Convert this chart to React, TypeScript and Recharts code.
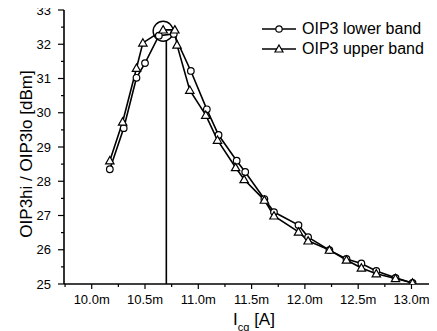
import React from "react";
import {
  LineChart,
  Line,
  XAxis,
  YAxis,
  ReferenceDot,
  ReferenceLine,
  Legend,
} from "recharts";

// ---- data ----
const seriesNames = ["OIP3 lower band", "OIP3 upper band"];

const lowerBandCurrent = [
  10.17, 10.3, 10.42, 10.5, 10.63, 10.77, 10.93, 11.08, 11.19, 11.36, 11.44,
  11.62, 11.71, 11.94, 12.03, 12.23, 12.39, 12.53, 12.67, 12.85, 13.01,
];
const lowerBandOIP3 = [
  28.35, 29.55, 31.02, 31.45, 32.25, 32.3, 31.22, 30.1, 29.35, 28.6, 28.27,
  27.48, 27.1, 26.72, 26.37, 25.99, 25.73, 25.6, 25.38, 25.18, 25.03,
];

const upperBandCurrent = [
  10.17, 10.29, 10.42, 10.48, 10.67, 10.78, 10.8, 10.92, 11.07, 11.18, 11.35,
  11.43, 11.62, 11.71, 11.94, 12.03, 12.23, 12.39, 12.53, 12.67, 12.85, 13.01,
];
const upperBandOIP3 = [
  28.6, 29.73, 31.3, 32.04, 32.42, 32.42, 31.98, 30.66, 29.93, 29.2, 28.4,
  28.05, 27.45, 26.99, 26.52, 26.26, 25.99, 25.7, 25.47, 25.3, 25.16, 25.03,
];

const xMajorTicks = [10.0, 10.5, 11.0, 11.5, 12.0, 12.5, 13.0];
const xTickLabels = ["10.0m", "10.5m", "11.0m", "11.5m", "12.0m", "12.5m", "13.0m"];
const xMinorTicks = [9.75, 10.25, 10.75, 11.25, 11.75, 12.25, 12.75];
const yMajorTicks = [25, 26, 27, 28, 29, 30, 31, 32, 33];
const yMinorTicks = [25.5, 26.5, 27.5, 28.5, 29.5, 30.5, 31.5, 32.5];

const xDomain = [9.74, 13.23];
const yDomain = [25, 33];

const peakCurrent = 10.67;
const peakOIP3 = 32.38;
const markerCurrent = 10.7;
const markerTop = 32.12;

const xLabelMain = "I";
const xLabelSub = "cq";
const xLabelUnit = " [A]";
const yLabel = "OIP3hi / OIP3lo [dBm]";

// ---- derived ----
const lowerData = lowerBandCurrent.map((x, i) => ({ x, y: lowerBandOIP3[i] }));
const upperData = upperBandCurrent.map((x, i) => ({ x, y: upperBandOIP3[i] }));
const xAllTicks = [...xMinorTicks, ...xMajorTicks].sort((a, b) => a - b);
const yAllTicks = [...yMinorTicks, ...yMajorTicks].sort((a, b) => a - b);

const FONT = "'Liberation Sans', Arial, Helvetica, sans-serif";
const INK = "#000";

const majorIndexX = (v: number) => xMajorTicks.findIndex((t) => Math.abs(t - v) < 1e-6);
const isMajorY = (v: number) => yMajorTicks.some((t) => Math.abs(t - v) < 1e-6);

const BottomTick = (props: any) => {
  const { x, y, payload } = props;
  const idx = majorIndexX(payload.value);
  const len = idx >= 0 ? 5 : 3;
  return (
    <g>
      <line x1={x} y1={y} x2={x} y2={y + len} stroke={INK} strokeWidth={1.2} />
      {idx >= 0 && (
        <text x={x} y={y + 20} textAnchor="middle" fontSize={13} fontFamily={FONT} fill={INK}>
          {xTickLabels[idx]}
        </text>
      )}
    </g>
  );
};

const TopTick = (props: any) => {
  const { x, y, payload } = props;
  const len = majorIndexX(payload.value) >= 0 ? 5 : 3;
  return <line x1={x} y1={y} x2={x} y2={y + len} stroke={INK} strokeWidth={1.2} />;
};

const LeftTick = (props: any) => {
  const { x, y, payload } = props;
  const major = isMajorY(payload.value);
  const len = major ? 6 : 3;
  return (
    <g>
      <line x1={x - len} y1={y} x2={x} y2={y} stroke={INK} strokeWidth={1.2} />
      {major && (
        <text x={x - 13} y={y + 4.5} textAnchor="end" fontSize={13} fontFamily={FONT} fill={INK}>
          {payload.value}
        </text>
      )}
    </g>
  );
};

const RightTick = (props: any) => {
  const { x, y, payload } = props;
  const len = isMajorY(payload.value) ? 5 : 3;
  return <line x1={x - len} y1={y} x2={x} y2={y} stroke={INK} strokeWidth={1.2} />;
};

const CircleDot = (props: any) => {
  const { cx, cy } = props;
  if (cx == null || cy == null) return null;
  return <circle cx={cx} cy={cy} r={3.3} fill="#fff" stroke={INK} strokeWidth={1.2} />;
};

const TriangleDot = (props: any) => {
  const { cx, cy } = props;
  if (cx == null || cy == null) return null;
  const s = 4.2;
  const pts = `${cx},${cy - s} ${cx + s},${cy + s * 0.75} ${cx - s},${cy + s * 0.75}`;
  return <polygon points={pts} fill="#fff" stroke={INK} strokeWidth={1.2} />;
};

const XLabel = (props: any) => {
  const vb = props.viewBox || {};
  const cx = vb.x + vb.width / 2 + 4;
  const by = vb.y + 41;
  return (
    <text x={cx} y={by} textAnchor="middle" fontFamily={FONT} fontSize={17} fill={INK}>
      <tspan>{xLabelMain}</tspan>
      <tspan fontSize={11} dy={6}>{xLabelSub}</tspan>
      <tspan dy={-6}>{xLabelUnit}</tspan>
    </text>
  );
};

const YLabel = () => {
  const x = 26;
  const y = 154;
  return (
    <text
      x={x}
      y={y}
      transform={`rotate(-90 ${x} ${y})`}
      textAnchor="middle"
      dominantBaseline="central"
      fontFamily={FONT}
      fontSize={17}
      fill={INK}
    >
      {yLabel}
    </text>
  );
};

const LegendContent = () => {
  const rows = [
    { name: seriesNames[0], shape: "circle" },
    { name: seriesNames[1], shape: "triangle" },
  ];
  return (
    <div style={{ fontFamily: FONT, fontSize: 16, color: INK, lineHeight: "20px" }}>
      {rows.map((r) => (
        <div key={r.name} style={{ display: "flex", alignItems: "center", height: 20 }}>
          <svg width={40} height={20} style={{ display: "block" }}>
            <line x1={0} y1={10} x2={34} y2={10} stroke={INK} strokeWidth={1.6} />
            {r.shape === "circle" ? (
              <circle cx={17} cy={10} r={3.2} fill="#fff" stroke={INK} strokeWidth={1.2} />
            ) : (
              <polygon points="17,6 21,13 13,13" fill="#fff" stroke={INK} strokeWidth={1.2} />
            )}
          </svg>
          <span style={{ whiteSpace: "nowrap" }}>{r.name}</span>
        </div>
      ))}
    </div>
  );
};

export default function App() {
  return (
    <div style={{ width: 437, height: 331, margin: "-8px -8px 0 -8px", background: "#fff" }}>
      <LineChart
        width={437}
        height={331}
        margin={{ top: 10, right: 1, bottom: 0, left: 0 }}
        style={{ background: "#fff" }}
      >
        <XAxis
          xAxisId="bottom"
          type="number"
          dataKey="x"
          domain={xDomain}
          allowDataOverflow
          ticks={xAllTicks}
          interval={0}
          orientation="bottom"
          height={47}
          tickSize={0}
          tickMargin={0}
          tickLine={false}
          tick={<BottomTick />}
          axisLine={{ stroke: INK, strokeWidth: 1.6 }}
          label={<XLabel />}
        />
        <XAxis
          xAxisId="top"
          type="number"
          dataKey="x"
          domain={xDomain}
          allowDataOverflow
          ticks={xAllTicks}
          interval={0}
          orientation="top"
          height={0}
          tickSize={0}
          tickMargin={0}
          tickLine={false}
          tick={<TopTick />}
          axisLine={{ stroke: INK, strokeWidth: 1.6 }}
        />
        <YAxis
          yAxisId="left"
          type="number"
          domain={yDomain}
          allowDataOverflow
          ticks={yAllTicks}
          interval={0}
          orientation="left"
          width={64}
          tickSize={0}
          tickMargin={0}
          tickLine={false}
          tick={<LeftTick />}
          axisLine={{ stroke: INK, strokeWidth: 1.6 }}
          label={<YLabel />}
        />
        <YAxis
          yAxisId="right"
          type="number"
          domain={yDomain}
          allowDataOverflow
          ticks={yAllTicks}
          interval={0}
          orientation="right"
          width={0}
          tickSize={0}
          tickMargin={0}
          tickLine={false}
          tick={<RightTick />}
          axisLine={false}
        />
        <Legend
          layout="vertical"
          align="center"
          verticalAlign="middle"
          content={<LegendContent />}
          wrapperStyle={{ position: "absolute", left: 262, top: 19, width: 175 }}
        />
        <ReferenceLine
          xAxisId="bottom"
          yAxisId="left"
          segment={[
            { x: markerCurrent, y: yDomain[0] },
            { x: markerCurrent, y: markerTop },
          ]}
          stroke={INK}
          strokeWidth={1.6}
        />
        <Line
          xAxisId="bottom"
          yAxisId="left"
          data={lowerData}
          dataKey="y"
          name={seriesNames[0]}
          stroke={INK}
          strokeWidth={1.6}
          dot={<CircleDot />}
          activeDot={false}
          isAnimationActive={false}
        />
        <Line
          xAxisId="bottom"
          yAxisId="left"
          data={upperData}
          dataKey="y"
          name={seriesNames[1]}
          stroke={INK}
          strokeWidth={1.6}
          dot={<TriangleDot />}
          activeDot={false}
          isAnimationActive={false}
        />
        <ReferenceDot
          xAxisId="bottom"
          yAxisId="left"
          x={peakCurrent}
          y={peakOIP3}
          r={10}
          fill="none"
          stroke={INK}
          strokeWidth={1.4}
        />
      </LineChart>
    </div>
  );
}
